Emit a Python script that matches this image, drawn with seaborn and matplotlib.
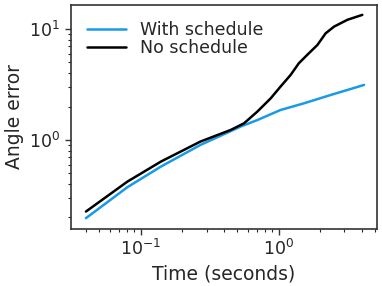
import numpy as np
import pandas as pd
import seaborn as sns
import matplotlib
matplotlib.use("Agg")
import matplotlib.pyplot as plt

# Data (log-log)
time_sched = [0.04, 0.08, 0.14, 0.27, 0.449, 0.53, 0.70, 1.03, 1.53, 2.38, 3.15, 4.16]
err_sched = [0.197, 0.375, 0.575, 0.90, 1.20, 1.32, 1.51, 1.86, 2.14, 2.54, 2.82, 3.13]

time_nosched = [0.04, 0.08, 0.14, 0.27, 0.449, 0.56, 0.70, 0.875, 1.03, 1.22, 1.40, 1.61,
                1.91, 2.19, 2.52, 3.15, 4.04]
err_nosched = [0.226, 0.421, 0.638, 0.965, 1.23, 1.41, 1.80, 2.37, 3.02, 3.85, 4.91, 5.84,
               7.18, 9.14, 10.5, 12.1, 13.4]

df = pd.concat([
    pd.DataFrame({"time": time_sched, "err": err_sched, "run": "With schedule"}),
    pd.DataFrame({"time": time_nosched, "err": err_nosched, "run": "No schedule"}),
])

sns.set_theme(style="ticks")
plt.rcParams["font.family"] = ["DejaVu Sans"]

fig, ax = plt.subplots(figsize=(3.82, 2.86), dpi=100)
sns.lineplot(data=df, x="time", y="err", hue="run", sort=False,
             palette={"With schedule": "#189AE8", "No schedule": "black"},
             linewidth=1.8, ax=ax)
ax.set_xscale("log")
ax.set_yscale("log")
ax.set_xlim(0.031, 5.2)
ax.set_ylim(0.158, 16.4)
ax.set_xlabel("Time (seconds)", fontsize=13.5)
ax.set_ylabel("Angle error", fontsize=13.5)
ax.tick_params(labelsize=12.5, color="#333333")
ax.tick_params(which="major", length=4, width=1.0)
ax.tick_params(which="minor", length=2.5, width=0.8)
for s in ax.spines.values():
    s.set_linewidth(1.2)
    s.set_color("#333333")
ax.legend(frameon=False, fontsize=12.5, loc="upper left", handlelength=2.2,
          borderaxespad=0.3, labelspacing=0.0, bbox_to_anchor=(0.015, 0.985))

fig.subplots_adjust(left=0.185, right=0.988, top=0.982, bottom=0.2)
fig.savefig("out.png", dpi=100)
